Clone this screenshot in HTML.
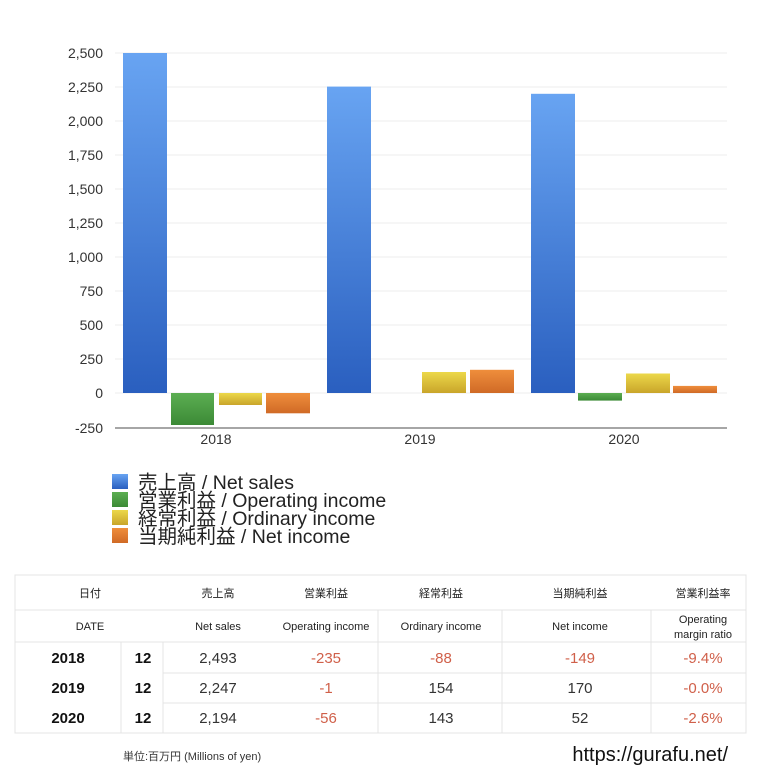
<!DOCTYPE html>
<html><head><meta charset="utf-8"><style>
body{margin:0;background:#fff;}
svg text{font-family:"Liberation Sans","Noto Sans CJK JP",sans-serif;}
</style></head><body>
<svg width="768" height="768" viewBox="0 0 768 768" xmlns="http://www.w3.org/2000/svg">
<defs>
<linearGradient id="b" x1="0" y1="0" x2="0" y2="1"><stop offset="0" stop-color="#68a4f2"/><stop offset="1" stop-color="#2a5fbf"/></linearGradient>
<linearGradient id="g" x1="0" y1="0" x2="0" y2="1"><stop offset="0" stop-color="#5cae52"/><stop offset="1" stop-color="#3c8a36"/></linearGradient>
<linearGradient id="y" x1="0" y1="0" x2="0" y2="1"><stop offset="0" stop-color="#ecd84a"/><stop offset="1" stop-color="#c9a52a"/></linearGradient>
<linearGradient id="o" x1="0" y1="0" x2="0" y2="1"><stop offset="0" stop-color="#ef8e3c"/><stop offset="1" stop-color="#d06a26"/></linearGradient>
</defs>
<g stroke="#eeeeee" stroke-width="1">
<line x1="115" y1="53" x2="727" y2="53"/><line x1="115" y1="87" x2="727" y2="87"/><line x1="115" y1="121" x2="727" y2="121"/><line x1="115" y1="155" x2="727" y2="155"/><line x1="115" y1="189" x2="727" y2="189"/><line x1="115" y1="223" x2="727" y2="223"/><line x1="115" y1="257" x2="727" y2="257"/><line x1="115" y1="291" x2="727" y2="291"/><line x1="115" y1="325" x2="727" y2="325"/><line x1="115" y1="359" x2="727" y2="359"/><line x1="115" y1="393" x2="727" y2="393"/>
</g>
<line x1="115" y1="428" x2="727" y2="428" stroke="#888" stroke-width="1.5"/>
<g font-size="14" fill="#333" text-anchor="end">
<text x="103" y="58">2,500</text><text x="103" y="92">2,250</text><text x="103" y="126">2,000</text><text x="103" y="160">1,750</text><text x="103" y="194">1,500</text><text x="103" y="228">1,250</text><text x="103" y="262">1,000</text><text x="103" y="296">750</text><text x="103" y="330">500</text><text x="103" y="364">250</text><text x="103" y="398">0</text><text x="103" y="433">-250</text>
</g>
<g font-size="14" fill="#333" text-anchor="middle">
<text x="216" y="444">2018</text><text x="420" y="444">2019</text><text x="624" y="444">2020</text>
</g>
<rect x="123" y="53" width="44" height="340" fill="url(#b)"/>
<rect x="171" y="393" width="43" height="32" fill="url(#g)"/>
<rect x="219" y="393" width="43" height="12" fill="url(#y)"/>
<rect x="266" y="393" width="44" height="20.3" fill="url(#o)"/>
<rect x="327" y="86.6" width="44" height="306.4" fill="url(#b)"/>
<rect x="422" y="372" width="44" height="21" fill="url(#y)"/>
<rect x="470" y="369.8" width="44" height="23.2" fill="url(#o)"/>
<rect x="531" y="93.8" width="44" height="299.2" fill="url(#b)"/>
<rect x="578" y="393" width="44" height="7.6" fill="url(#g)"/>
<rect x="626" y="373.5" width="44" height="19.5" fill="url(#y)"/>
<rect x="673" y="385.9" width="44" height="7.1" fill="url(#o)"/>
<g font-size="19.5" fill="#222">
<rect x="112" y="474" width="16" height="15" fill="url(#b)"/><text x="138" y="489">売上高 / Net sales</text>
<rect x="112" y="492" width="16" height="15" fill="url(#g)"/><text x="138" y="507">営業利益 / Operating income</text>
<rect x="112" y="510" width="16" height="15" fill="url(#y)"/><text x="138" y="525">経常利益 / Ordinary income</text>
<rect x="112" y="528" width="16" height="15" fill="url(#o)"/><text x="138" y="543">当期純利益 / Net income</text>
</g>
<g stroke="#e4e4e4" stroke-width="1" fill="none">
<rect x="15" y="575" width="731" height="158"/>
<line x1="15" y1="610" x2="746" y2="610"/><line x1="15" y1="642" x2="746" y2="642"/>
<line x1="163" y1="673" x2="746" y2="673"/><line x1="163" y1="703" x2="746" y2="703"/>
<line x1="121" y1="642" x2="121" y2="733"/><line x1="163" y1="642" x2="163" y2="733"/>
<line x1="378" y1="610" x2="378" y2="733"/>
<line x1="502" y1="610" x2="502" y2="733"/><line x1="651" y1="610" x2="651" y2="733"/>
</g>
<g font-size="11" fill="#222" text-anchor="middle">
<text x="90" y="597">日付</text><text x="218" y="597">売上高</text><text x="326" y="597">営業利益</text><text x="441" y="597">経常利益</text><text x="580" y="597">当期純利益</text><text x="703" y="597">営業利益率</text>
<text x="90" y="630">DATE</text><text x="218" y="630">Net sales</text><text x="326" y="630">Operating income</text><text x="441" y="630">Ordinary income</text><text x="580" y="630">Net income</text><text x="703" y="623">Operating</text><text x="703" y="638">margin ratio</text>
</g>
<g font-size="15" text-anchor="middle">
<g font-weight="bold" fill="#111"><text x="68" y="663">2018</text><text x="143" y="663">12</text><text x="68" y="693">2019</text><text x="143" y="693">12</text><text x="68" y="723">2020</text><text x="143" y="723">12</text></g>
<g fill="#333"><text x="218" y="663">2,493</text><text x="218" y="693">2,247</text><text x="218" y="723">2,194</text>
<text x="441" y="693">154</text><text x="441" y="723">143</text><text x="580" y="693">170</text><text x="580" y="723">52</text></g>
<g fill="#d0604a"><text x="326" y="663">-235</text><text x="441" y="663">-88</text><text x="580" y="663">-149</text><text x="703" y="663">-9.4%</text>
<text x="326" y="693">-1</text><text x="703" y="693">-0.0%</text><text x="326" y="723">-56</text><text x="703" y="723">-2.6%</text></g>
</g>
<text x="123" y="760" font-size="11" fill="#333">単位:百万円 (Millions of yen)</text>
<text x="728" y="761" font-size="20" fill="#111" text-anchor="end">https://gurafu.net/</text>
</svg>
</body></html>
